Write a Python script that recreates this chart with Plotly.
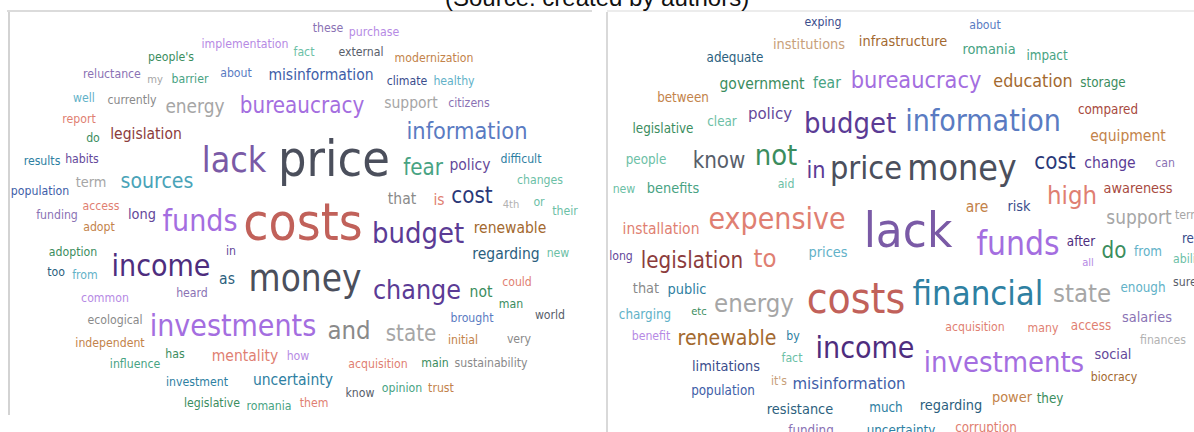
import plotly.graph_objects as go

# colours used by the clouds
pal = {
    'dgray': '#4b4f5c', 'red': '#c1615a', 'purple': '#7a5aa6', 'dpurple': '#4e2d7e',
    'mpurple': '#5b3b95', 'lpurple': '#a46ee0', 'lilac': '#b68ae4', 'gpurple': '#8a72b4',
    'blue': '#5a7bc2', 'dblue': '#3a4d8c', 'navy': '#2a3878', 'mblue': '#3e5ea8',
    'teal': '#4aa3b8', 'lteal': '#62b2c8', 'dteal': '#2c5f7e', 'steal': '#2e80a2',
    'green': '#3b8d5e', 'tgreen': '#48a383', 'lgreen': '#6cc0a6', 'brown': '#a3692f',
    'orange': '#c3834a', 'lbrown': '#c8a07a', 'salmon': '#df7f72', 'dred': '#8c3c3c',
    'gray': '#a6a6a6', 'mgray': '#8a8a8a', 'dkgray': '#585e6a', 'rust': '#a84a40',
    'violet': '#64489a', 'pgray': '#b2b2b2',
}

# ---- left cloud: words and weights ----
left_words = ['implementation', "people's", 'reluctance', 'my', 'barrier', 'about', 'misinformation',
              'these', 'purchase', 'fact', 'external', 'modernization', 'climate', 'healthy',
              'well', 'currently', 'energy', 'bureaucracy', 'support', 'citizens', 'report',
              'legislation', 'do', 'information', 'lack', 'price', 'results', 'habits', 'fear',
              'policy', 'difficult', 'term', 'sources', 'changes', 'population', 'that', 'is',
              'cost', '4th', 'or', 'their', 'access', 'funding', 'long', 'funds', 'costs',
              'adopt', 'renewable', 'budget', 'adoption', 'in', 'regarding', 'new', 'income',
              'too', 'from', 'as', 'money', 'could', 'change', 'not', 'common', 'heard', 'man',
              'world', 'brought', 'ecological', 'investments', 'and', 'state', 'initial', 'very',
              'independent', 'has', 'mentality', 'how', 'influence', 'acquisition', 'main',
              'sustainability', 'investment', 'uncertainty', 'know', 'opinion', 'trust',
              'legislative', 'romania', 'them']
left_weight = [11, 11, 11, 10, 11, 11, 14,
               11, 11, 11, 11, 11, 11, 11,
               11, 11, 17, 20, 14, 11, 11,
               14, 11, 21, 32, 45, 11, 11, 20,
               14, 11, 13, 19, 11, 11, 14, 14,
               20, 10, 11, 11, 11, 11, 13, 27, 46,
               11, 14, 26, 11, 11, 14, 11, 27,
               11, 11, 14, 33, 11, 24, 14, 11, 11, 11,
               11, 11, 11, 27, 23, 20, 11, 11,
               11, 11, 14, 11, 11, 11, 11,
               11, 11, 14, 11, 11, 11,
               11, 11, 11]

# ---- right cloud ----
right_words = ['exping', 'about', 'institutions', 'infrastructure', 'romania', 'impact', 'adequate',
               'government', 'fear', 'bureaucracy', 'education', 'storage', 'between', 'policy',
               'clear', 'budget', 'information', 'compared', 'legislative', 'equipment', 'people',
               'know', 'not', 'in', 'price', 'money', 'cost', 'change', 'can', 'new', 'benefits',
               'aid', 'high', 'awareness', 'are', 'risk', 'expensive', 'support', 'term',
               'installation', 'lack', 'after', 'reduce', 'funds', 'do', 'from', 'all', 'ability',
               'long', 'legislation', 'to', 'prices', 'sure', 'enough', 'that', 'public', 'energy',
               'costs', 'financial', 'state', 'charging', 'etc', 'salaries', 'acquisition', 'many',
               'access', 'benefit', 'renewable', 'by', 'finances', 'income', 'social', 'fact',
               'investments', 'limitations', 'biocracy', "it's", 'misinformation', 'population',
               'power', 'they', 'regarding', 'resistance', 'much', 'funding', 'uncertainty',
               'corruption']
right_weight = [11, 11, 13, 13, 13, 12, 12,
                14, 14, 21, 16, 12, 12, 15,
                12, 26, 27, 12, 12, 14, 12,
                20, 26, 21, 29, 32, 20, 14, 11, 11, 13,
                11, 23, 13, 14, 13, 27, 17, 11,
                14, 44, 12, 12, 30, 20, 12, 10, 11,
                11, 20, 23, 13, 11, 12, 13, 13, 23,
                38, 31, 23, 12, 10, 13, 11, 11,
                12, 11, 19, 11, 11, 27, 13, 11,
                26, 13, 11, 11, 15, 12,
                13, 12, 13, 13, 12, 12, 12,
                12]

# ---- placement of the words on the page (pixels) and colour names ----
left_x = [245, 171, 112, 155, 190, 236, 321, 328, 374, 304, 361, 434, 407, 454,
          84, 132, 195, 302, 411, 469, 79, 146, 93, 467, 234, 334, 42, 82, 423,
          470, 521, 91, 157, 540, 40, 402, 439, 472, 511, 539, 565, 101, 57, 142, 200, 303,
          99, 510, 418, 73, 231, 506, 558, 161, 56, 85, 227, 305, 517, 417, 481, 105, 192, 511,
          550, 472, 115, 233, 349, 411, 463, 519, 110, 175, 245, 298, 135, 378, 435,
          491, 197, 293, 360, 402, 441, 212, 269, 314]
left_y = [44, 57, 74, 79, 79, 73, 75, 28, 32, 52, 52, 58, 81, 81,
          98, 100, 106, 105, 103, 103, 119, 134, 138, 131, 160, 158, 161, 159, 167,
          165, 159, 182, 181, 180, 191, 199, 200, 195, 204, 202, 211, 206, 215, 214, 220, 222,
          227, 228, 233, 252, 251, 254, 253, 265, 272, 275, 279, 278, 282, 290, 292, 298, 293, 304,
          315, 318, 320, 325, 330, 333, 340, 339, 343, 354, 356, 356, 364, 364, 363,
          363, 382, 380, 393, 388, 388, 403, 406, 403]
left_col = ['lilac', 'green', 'gpurple', 'gray', 'tgreen', 'blue', 'mblue', 'gpurple', 'lilac',
            'lgreen', 'dkgray', 'orange', 'dblue', 'lteal', 'lteal', 'mgray', 'gray', 'lpurple',
            'gray', 'gpurple', 'salmon', 'dred', 'green', 'blue', 'purple', 'dgray', 'steal',
            'violet', 'tgreen', 'violet', 'steal', 'gray', 'teal', 'lgreen', 'mblue', 'mgray',
            'salmon', 'navy', 'pgray', 'lgreen', 'lgreen', 'salmon', 'gpurple', 'violet',
            'lpurple', 'red', 'orange', 'brown', 'mpurple', 'green', 'violet', 'dteal', 'lgreen',
            'dpurple', 'dteal', 'lteal', 'dteal', 'dgray', 'salmon', 'mpurple', 'green', 'lilac',
            'gpurple', 'green', 'dkgray', 'blue', 'mgray', 'lpurple', 'mgray', 'gray', 'orange',
            'mgray', 'orange', 'green', 'salmon', 'lilac', 'tgreen', 'salmon', 'green', 'mgray',
            'steal', 'steal', 'dkgray', 'tgreen', 'orange', 'green', 'tgreen', 'salmon']

right_x = [823, 985, 809, 903, 989, 1047, 735, 762, 827, 916, 1033, 1103, 683, 770,
           722, 850, 983, 1108, 663, 1128, 646, 719, 776, 816, 866, 962, 1055, 1110, 1165, 624, 673,
           786, 1072, 1138, 977, 1019, 777, 1139, 1175, 661, 908, 1081, 1182, 1018, 1114, 1148, 1088,
           1173, 621, 692, 765, 828, 1173, 1143, 646, 687, 754, 856, 978, 1082, 645, 699, 1147,
           975, 1043, 1091, 651, 727, 793, 1163, 865, 1113, 792, 1004, 726, 1114, 779, 849, 723,
           1012, 1050, 951, 800, 886, 811, 901, 986]
right_y = [22, 25, 44, 41, 49, 55, 57, 84, 83, 80, 81, 82, 97, 113,
           121, 123, 120, 109, 128, 136, 159, 160, 155, 170, 168, 168, 161, 163, 163, 189, 188,
           184, 195, 188, 207, 206, 218, 217, 215, 229, 230, 241, 238, 243, 250, 251, 262,
           259, 256, 260, 258, 252, 282, 287, 288, 289, 303, 298, 293, 293, 314, 311, 317,
           327, 328, 325, 336, 338, 336, 340, 347, 354, 358, 362, 366, 377, 381, 383, 390,
           397, 398, 405, 409, 407, 430, 430, 427]
right_col = ['dblue', 'blue', 'lbrown', 'brown', 'tgreen', 'tgreen', 'dteal', 'green', 'tgreen',
             'lpurple', 'brown', 'green', 'orange', 'violet', 'lgreen', 'mpurple', 'blue', 'rust',
             'green', 'orange', 'lgreen', 'dkgray', 'green', 'mpurple', 'dgray', 'dgray', 'navy',
             'mpurple', 'gpurple', 'lgreen', 'tgreen', 'lgreen', 'salmon', 'rust', 'orange',
             'dblue', 'salmon', 'gray', 'gray', 'salmon', 'purple', 'dpurple', 'dblue', 'lpurple',
             'green', 'lteal', 'lilac', 'lgreen', 'violet', 'dred', 'salmon', 'lteal', 'dkgray',
             'lteal', 'mgray', 'steal', 'gray', 'red', 'steal', 'gray', 'lteal', 'green',
             'gpurple', 'salmon', 'salmon', 'salmon', 'lilac', 'brown', 'steal', 'pgray',
             'dpurple', 'violet', 'lgreen', 'lpurple', 'dblue', 'brown', 'lbrown', 'mblue',
             'mblue', 'orange', 'green', 'dteal', 'dteal', 'steal', 'gpurple', 'steal', 'salmon']

# words cut by the right edge are anchored by their left side
edge_words = {'term', 'reduce', 'ability', 'sure'}

FONT = 'DejaVu Sans Condensed, DejaVu Sans'
SCALE = 1.11   # condensed face is ~0.9 as wide, so grow it to keep word widths

fig = go.Figure()
for words, wt, xs, ys, cols in [(left_words, left_weight, left_x, left_y, left_col),
                                (right_words, right_weight, right_x, right_y, right_col)]:
    pos = ['middle right' if (w in edge_words and x > 1150) else 'middle center'
           for w, x in zip(words, xs)]
    sizes = [round(w * SCALE, 1) for w in wt]
    # nudge down a little so the x-height sits where the reference shows it
    ys_adj = [y + 0.1 * s for y, s in zip(ys, sizes)]
    fig.add_trace(go.Scatter(
        x=xs, y=ys_adj, mode='text', text=words, textposition=pos,
        textfont=dict(family=FONT, size=sizes, color=[pal[c] for c in cols]),
        hoverinfo='text', showlegend=False, cliponaxis=True))

# panel frames
fig.add_shape(type='line', x0=7, x1=592, y0=11, y1=11, line=dict(color='#cfcfcf', width=1.5))
fig.add_shape(type='line', x0=607, x1=1194, y0=11, y1=11, line=dict(color='#e6e6e6', width=1.5))
fig.add_shape(type='line', x0=9, x1=9, y0=12, y1=415, line=dict(color='#c4c4c4', width=1.5))
fig.add_shape(type='line', x0=607, x1=607, y0=12, y1=432, line=dict(color='#cccccc', width=1.5))

# caption cut at the top of the image
fig.add_annotation(x=597, y=13, xref='x', yref='y', yanchor='bottom', showarrow=False,
                   text='(Source: created by authors)',
                   font=dict(family='Liberation Sans', size=24, color='#111111'))

fig.update_layout(
    width=1194, height=432,
    margin=dict(l=0, r=0, t=0, b=0),
    paper_bgcolor='white', plot_bgcolor='white',
    xaxis=dict(range=[0, 1194], visible=False, fixedrange=True),
    yaxis=dict(range=[432, 0], visible=False, fixedrange=True),
)

fig.write_html("out.html", config={'displayModeBar': False},
               post_script="document.body.style.margin='0px';")
